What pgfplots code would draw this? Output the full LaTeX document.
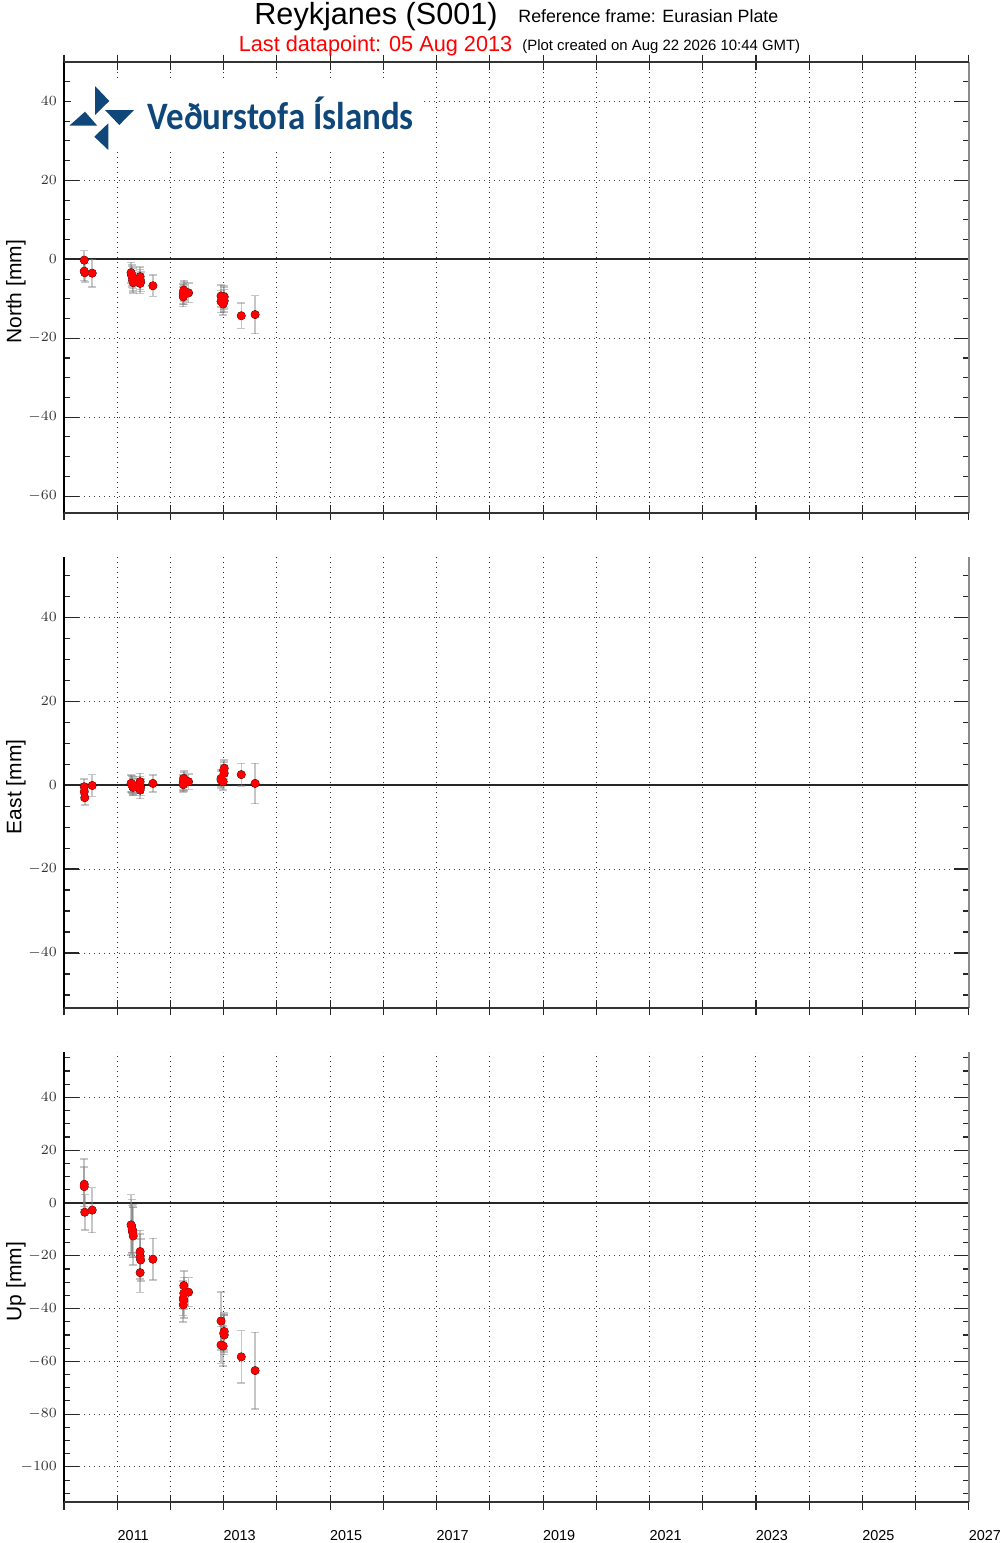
\documentclass[border=0pt]{standalone}
\usepackage{fontspec}
\setmainfont{Liberation Sans}
\newfontfamily\logofont{Carlito}
\usepackage{pgfplots}
\pgfplotsset{compat=1.18}
\usepackage{pgfplotstable}

\definecolor{vedur}{RGB}{16,71,122}

\pgfplotstableread{
x       n      ne   e     ee   u      ue
2010.38 -0.2   2.4  -0.4  1.8   7.1   9.5
2010.38 -3.0   2.4  -1.6  1.8   6.2   7.5
2010.39 -3.4   2.4  -3.0  1.8  -3.5   6.7
2010.53 -3.5   3.5  -0.1  2.6  -2.7   8.5
2011.26 -3.4   2.6   0.4  2.0  -8.3  11.5
2011.27 -4.0   2.6   0.3  2.0  -8.7  10.0
2011.28 -4.4   2.6   0.1  2.0 -10.0   9.0
2011.29 -4.8   2.6  -0.1  2.0 -10.5  10.0
2011.29 -5.4   2.6  -0.4  2.0 -11.2   9.5
2011.30 -5.9   2.6  -0.5  2.0 -12.5  11.0
2011.43 -4.4   2.5   0.8  2.0 -18.4   8.0
2011.43 -5.1   2.5   0.1  2.0 -20.3   8.5
2011.44 -5.7   2.5  -0.5  2.0 -21.6   8.0
2011.43 -6.1   2.5  -1.2  2.0 -26.4   7.5
2011.67 -6.7   2.7   0.4  2.0 -21.3   7.9
2012.25 -7.8   2.5   1.6  1.8 -31.3   5.5
2012.25 -8.2   2.5   1.2  1.8 -34.2   6.0
2012.34 -8.5   2.5   0.8  1.8 -33.8   5.5
2012.24 -8.8   2.5   0.6  1.8 -36.1   6.5
2012.25 -9.0   2.5   0.4  1.8 -37.0   6.5
2012.24 -9.5   2.5   0.1  1.8 -38.6   6.5
2012.95 -9.3   2.8   1.2  2.0 -44.7  11.0
2013.01 -9.5   2.8   4.0  2.0 -48.7   7.0
2013.00 -9.9   2.8   3.5  2.0 -49.4   7.0
2013.01 -10.5  2.8   2.8  2.0 -50.0   7.5
2012.95 -10.7  2.8   1.6  2.0 -53.8   7.0
2012.99 -11.3  2.8   0.8  2.0 -54.2   7.5
2013.33 -14.3  3.2   2.5  2.7 -58.3   9.9
2013.59 -14.0  4.8   0.4  4.8 -63.5  14.5
}\gps

\pgfplotsset{
  gpsaxis/.style={
    scale only axis, width=452.5pt,
    xmin=2010, xmax=2027,
    xtick={2010,...,2027}, minor x tick num=3,
    xticklabels={,,,,,,,,,,,,,,,,,},
    ytick distance=20, minor y tick num=3,
    axis line style={draw=none},
    xtick align=center, ytick align=inside,
    major tick length=7.5pt, minor tick length=3pt,
    tick style={black!85, line width=0.55pt},
    grid=major,
    major x grid style={black!85, line width=0.5pt, dash pattern=on 0.5pt off 2pt},
    major y grid style={black!75, line width=0.5pt, dash pattern=on 0.5pt off 2pt},
    yticklabel style={font=\fontsize{6.7}{8}\selectfont, text=black!80},
    every axis y label/.style={at={(axis description cs:-0.053,0.49)}, rotate=90, anchor=center, font=\fontsize{10.5}{12}\selectfont},
    clip=false,
  },
  errs/.style={only marks, mark=none, forget plot,
    error bars/.cd, y dir=both, y explicit,
    error bar style={gray, opacity=0.45, line width=0.75pt},
    error mark=-,
    error mark options={rotate=90, gray, opacity=0.45, line width=0.75pt, mark size=2pt}},
  dots/.style={only marks, mark=*, mark size=1.9pt, color=red, mark options={fill=red, draw=red, line width=0.3pt}},
}

\begin{document}
\begin{tikzpicture}
\useasboundingbox (0,0) rectangle (500pt,-771.5pt);

% titles
\node[anchor=base west, inner sep=0, font=\fontsize{15.3}{16}\selectfont] at (127pt,-12pt) {Reykjanes (S001)};
\node[anchor=base west, inner sep=0, font=\fontsize{8.9}{10}\selectfont] at (259pt,-11.3pt) {Reference frame: Eurasian Plate};
\node[anchor=base west, inner sep=0, text=red, font=\fontsize{10.85}{12}\selectfont] at (119.2pt,-25.8pt) {Last datapoint: 05 Aug 2013};
\node[anchor=base west, inner sep=0, font=\fontsize{7.46}{9}\selectfont] at (261pt,-25.3pt) {(Plot created on Aug 22 2026 10:44 GMT)};

% North
\begin{axis}[gpsaxis, at={(32pt,-31pt)}, anchor=north west, height=225.35pt,
  ymin=-64.2, ymax=50, xtick pos=both, ylabel={North [mm]}]
  \addplot[black!85, line width=1pt, forget plot] coordinates {(2010,0) (2027,0)};
  \addplot[errs] table[x=x, y=n, y error=ne] {\gps};
  \addplot[dots] table[x=x, y=n] {\gps};
  \draw[black, line width=1pt] (rel axis cs:0,0) -- (rel axis cs:0,1);
  \draw[black!45, line width=1.2pt] (rel axis cs:1,0) -- (rel axis cs:1,1);
  \draw[black!80, line width=1pt] (rel axis cs:0,0) -- (rel axis cs:1,0);
  \draw[black!80, line width=1pt] (rel axis cs:0,1) -- (rel axis cs:1,1);
\end{axis}

% East
\begin{axis}[gpsaxis, at={(32pt,-278.35pt)}, anchor=north west, height=225.65pt,
  ymin=-53.1, ymax=54.4, xtick pos=bottom, ylabel={East [mm]}]
  \addplot[black!85, line width=1pt, forget plot] coordinates {(2010,0) (2027,0)};
  \addplot[errs] table[x=x, y=e, y error=ee] {\gps};
  \addplot[dots] table[x=x, y=e] {\gps};
  \draw[black, line width=1pt] (rel axis cs:0,0) -- (rel axis cs:0,1);
  \draw[black!45, line width=1.2pt] (rel axis cs:1,0) -- (rel axis cs:1,1);
  \draw[black!80, line width=1pt] (rel axis cs:0,0) -- (rel axis cs:1,0);
\end{axis}

% Up
\begin{axis}[gpsaxis, at={(32pt,-526pt)}, anchor=north west, height=225pt,
  ymin=-113.3, ymax=57.2, xtick pos=bottom, ylabel={Up [mm]},
  xticklabels={,2011,,2013,,2015,,2017,,2019,,2021,,2023,,2025,,2027},
  xticklabel style={font=\fontsize{7.2}{8}\selectfont, anchor=center, xshift=8pt, yshift=-13.2pt}]
  \addplot[black!85, line width=1pt, forget plot] coordinates {(2010,0) (2027,0)};
  \addplot[errs] table[x=x, y=u, y error=ue] {\gps};
  \addplot[dots] table[x=x, y=u] {\gps};
  \draw[black, line width=1pt] (rel axis cs:0,0) -- (rel axis cs:0,1);
  \draw[black!45, line width=1.2pt] (rel axis cs:1,0) -- (rel axis cs:1,1);
  \draw[black!80, line width=1pt] (rel axis cs:0,0) -- (rel axis cs:1,0);
\end{axis}

% logo
\fill[white] (35.5pt,-40pt) rectangle (211.5pt,-75pt);
\fill[vedur] (47.5pt,-43pt) -- (54.65pt,-50.5pt) -- (47.5pt,-57.5pt) -- cycle;
\fill[vedur] (52.5pt,-55pt) -- (67pt,-55pt) -- (59.65pt,-62.5pt) -- cycle;
\fill[vedur] (34.65pt,-62.85pt) -- (48.65pt,-62.85pt) -- (42.5pt,-55.85pt) -- cycle;
\fill[vedur] (54.15pt,-61.65pt) -- (54.15pt,-75pt) -- (47.15pt,-68.35pt) -- cycle;
\node[anchor=base west, inner sep=0, text=vedur] at (73.6pt,-64.6pt)
  {\scalebox{0.9}[1]{\logofont\bfseries\fontsize{19.4}{20}\selectfont Veðurstofa Íslands}};
\end{tikzpicture}
\end{document}
